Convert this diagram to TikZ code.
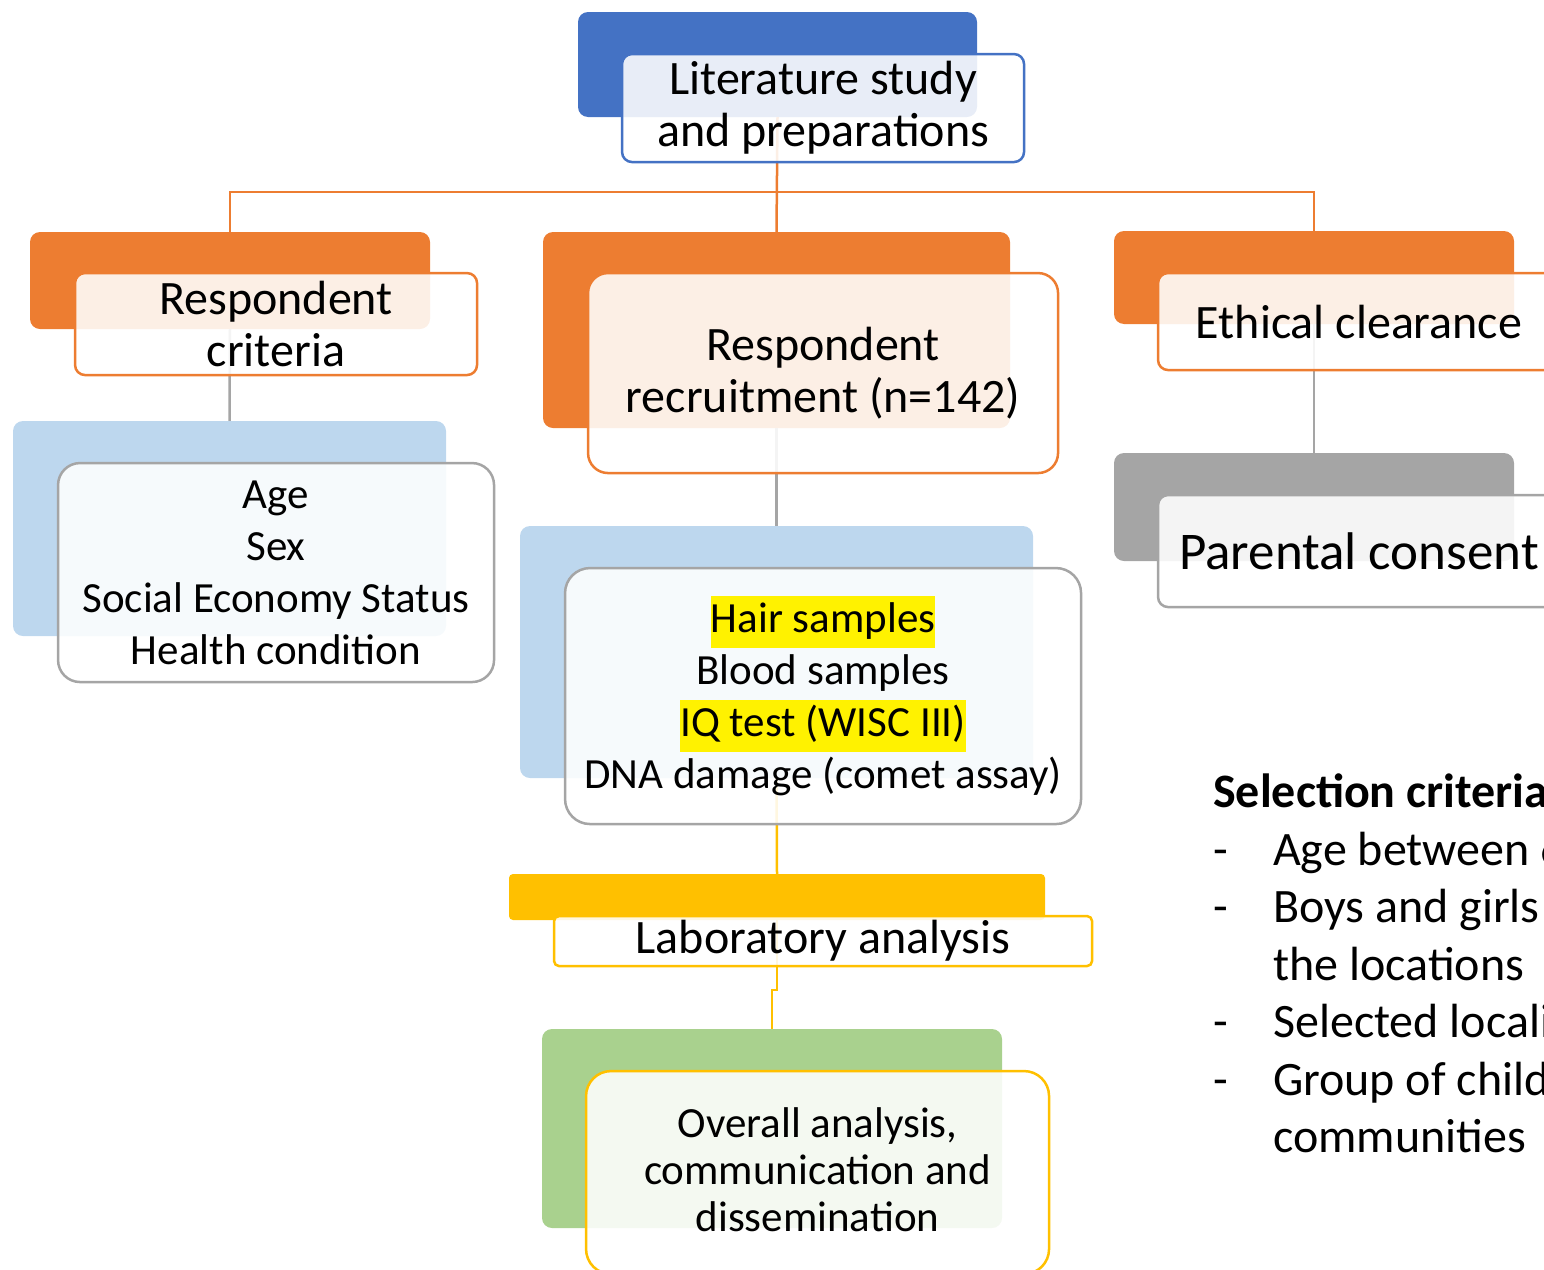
\documentclass[tikz,border=0pt]{standalone}
\usepackage{fontspec}
\setmainfont{Carlito}
\usetikzlibrary{positioning}
\definecolor{cblue}{HTML}{4472C4}
\definecolor{corange}{HTML}{ED7D31}
\definecolor{clblue}{HTML}{BDD7EE}
\definecolor{cgray}{HTML}{A5A5A5}
\definecolor{cyellow}{HTML}{FFC000}
\definecolor{cgreen}{HTML}{A9D18E}
\newcommand{\hl}[1]{{\setlength{\fboxsep}{0pt}\colorbox{yellow}{\strut #1}}}
\newcommand{\boxfont}{\fontsize{48}{52}\selectfont}
\newcommand{\listfont}{\fontsize{43}{52}\selectfont}

\begin{document}
\begin{tikzpicture}[x=1pt,y=1pt,
    backbox/.style={rounded corners=10pt, inner sep=0pt},
    frontbox/.style={draw, line width=2.5pt, fill=white, fill opacity=.88,
        text opacity=1, inner sep=0pt, align=center, font=\boxfont},
    oline/.style={corange, line width=2.5pt},
    gline/.style={cgray, line width=2.5pt},
    yline/.style={cyellow, line width=2.5pt}]
    \useasboundingbox (0,0) rectangle (1544,-1269);
    \clip (0,0) rectangle (1544,-1269);
    % back boxes
    \node[backbox, fill=cblue, minimum width=399pt, minimum height=105pt] (litback) at (777.5,-64.5) {};
    \node[backbox, fill=corange, minimum width=400pt, minimum height=97pt] (critback) at (230,-280.5) {};
    \node[backbox, fill=clblue, minimum width=433pt, minimum height=215pt] (ageback) at (229.5,-528.5) {};
    \node[backbox, fill=corange, minimum width=467pt, minimum height=196pt] (recback) at (776.5,-330) {};
    \node[backbox, fill=clblue, minimum width=513pt, minimum height=252pt] (sampback) at (776.5,-652) {};
    \node[backbox, rounded corners=4pt, fill=cyellow, minimum width=536pt, minimum height=46pt] (labback) at (777,-897) {};
    \node[backbox, fill=cgreen, minimum width=460pt, minimum height=199pt] (overback) at (772,-1128.5) {};
    \node[backbox, fill=corange, minimum width=400pt, minimum height=93pt] (ethback) at (1314,-277.5) {};
    \node[backbox, fill=cgray, minimum width=400pt, minimum height=108pt] (parback) at (1314,-507) {};
    % connectors
    \coordinate (hub) at (777,-192);
    \draw[oline] (litback.south) -- (recback.north);
    \draw[oline] (critback.north) |- (hub) -| (ethback.north);
    \draw[gline] (critback.south) -- (ageback.north);
    \draw[gline] (recback.south) -- (sampback.north);
    \draw[gline] (ethback.south) -- (parback.north);
    \draw[yline] (sampback.south) -- (labback.north);
    \draw[yline] (labback.south) -- ++(0,-70) -| (overback.north);
    % front boxes
    \node[frontbox, draw=cblue, rounded corners=10pt, minimum width=402pt, minimum height=108pt,
        below right=41pt and 43pt of litback.north west] (lit) {Literature study\\and preparations};
    \node[frontbox, draw=corange, rounded corners=10pt, minimum width=402pt, minimum height=102pt,
        below right=40pt and 44pt of critback.north west] (crit) {Respondent\\criteria};
    \node[frontbox, draw=cgray, rounded corners=22pt, minimum width=436pt, minimum height=219pt,
        font=\listfont,
        below right=41pt and 44pt of ageback.north west] (age) {Age\\Sex\\Social Economy Status\\Health condition};
    \node[frontbox, draw=corange, rounded corners=20pt, minimum width=470pt, minimum height=200pt,
        below right=40pt and 44pt of recback.north west] (rec) {Respondent\\recruitment (n=142)};
    \node[frontbox, draw=cgray, rounded corners=25pt, minimum width=516pt, minimum height=256pt,
        font=\listfont,
        below right=41pt and 44pt of sampback.north west] (samp) {\hl{Hair samples}\\Blood samples\\\hl{IQ test (WISC III)}\\DNA damage (comet assay)};
    \node[frontbox, draw=cyellow, rounded corners=5pt, minimum width=538pt, minimum height=50pt,
        below right=41pt and 44pt of labback.north west] (lab) {Laboratory analysis};
    \node[frontbox, draw=cyellow, rounded corners=25pt, minimum width=463pt, minimum height=203pt,
        font=\fontsize{43}{47}\selectfont, text depth=6pt,
        below right=41pt and 43pt of overback.north west] (over) {Overall analysis,\\communication and\\dissemination};
    \node[frontbox, draw=corange, rounded corners=10pt, minimum width=402pt, minimum height=97pt,
        below right=41pt and 43pt of ethback.north west] (eth) {Ethical clearance};
    \node[frontbox, draw=cgray, rounded corners=10pt, minimum width=402pt, minimum height=112pt,
        font=\fontsize{53}{58}\selectfont,
        below right=41pt and 43pt of parback.north west] (par) {Parental consent};
    % selection criteria
    \node[anchor=north west, inner sep=0pt, align=left, font=\fontsize{48}{57.5}\selectfont] (sel) at (1213,-774)
        {\textbf{Selection criteria}\\
         \makebox[60pt][l]{-}Age between 6\\
         \makebox[60pt][l]{-}Boys and girls in\\
         \makebox[60pt][l]{}the locations\\
         \makebox[60pt][l]{-}Selected locality\\
         \makebox[60pt][l]{-}Group of children\\
         \makebox[60pt][l]{}communities};
\end{tikzpicture}
\end{document}
